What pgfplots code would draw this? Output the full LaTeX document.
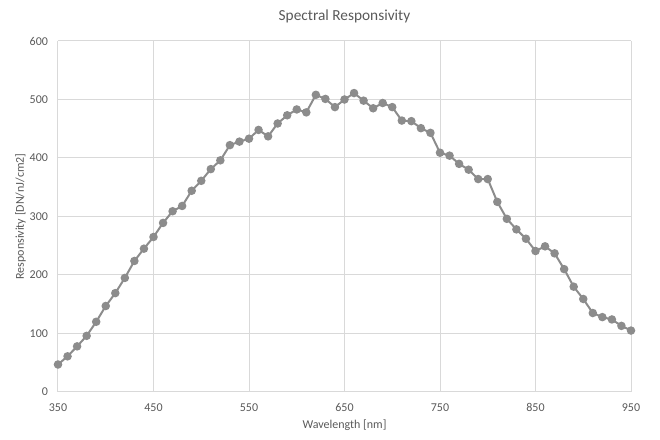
\documentclass[border=0pt]{standalone}
\usepackage{pgfplots}
\pgfplotsset{compat=1.18}
\usepackage{fontspec}
\setmainfont{Carlito}
\definecolor{txt}{RGB}{89,89,89}
\definecolor{gridc}{RGB}{217,217,217}
\definecolor{ser}{RGB}{140,140,140}
\begin{document}
\begin{tikzpicture}
\begin{axis}[
    scale only axis,
    width=429.75pt, height=263.25pt,
    xmin=350, xmax=950, ymin=0, ymax=600,
    xtick={350,450,...,950}, ytick={0,100,...,600},
    grid=major, grid style={gridc, line width=0.75pt},
    axis x line*=bottom, axis y line*=left,
    x axis line style={gridc, line width=0.75pt, -},
    y axis line style={draw=none, -},
    major tick length=0pt,
    tick label style={font=\fontsize{9}{10}\selectfont, text=txt},
    xticklabel style={yshift=-5pt},
    yticklabel style={xshift=-4pt},
    /pgf/number format/assume math mode=true,
    /pgf/number format/1000 sep={},
    xlabel={Wavelength [nm]}, ylabel={Responsivity [DN/nJ/cm2]},
    label style={font=\fontsize{9}{10}\selectfont, text=txt},
    xlabel style={yshift=1pt},
    ylabel style={yshift=-4pt},
    title={Spectral Responsivity},
    title style={font=\fontsize{11.5}{13}\selectfont, text=txt, yshift=4pt},
    clip=false
]
\addplot[ser, line width=1.5pt, mark=*, mark size=2.4pt, mark options={fill=ser, draw=ser}]
    coordinates {(350,47)(360,61)(370,78)(380,96)(390,120)(400,147)(410,169)
                 (420,195)(430,224)(440,245)(450,265)(460,289)(470,309)(480,318)
                 (490,344)(500,361)(510,381)(520,396)(530,422)(540,428)(550,433)
                 (560,448)(570,437)(580,459)(590,473)(600,483)(610,478)(620,508)
                 (630,501)(640,487)(650,500)(660,511)(670,498)(680,485)(690,494)
                 (700,487)(710,464)(720,463)(730,451)(740,443)(750,409)(760,404)
                 (770,390)(780,380)(790,364)(800,364)(810,325)(820,296)(830,278)
                 (840,262)(850,241)(860,249)(870,237)(880,210)(890,180)(900,159)
                 (910,135)(920,128)(930,124)(940,113)(950,105)};
\end{axis}
\path[use as bounding box] ([shift={(-43.5pt,-36pt)}]current axis.south west)
    rectangle ([shift={(21.75pt,30.75pt)}]current axis.north east);
\end{tikzpicture}
\end{document}
